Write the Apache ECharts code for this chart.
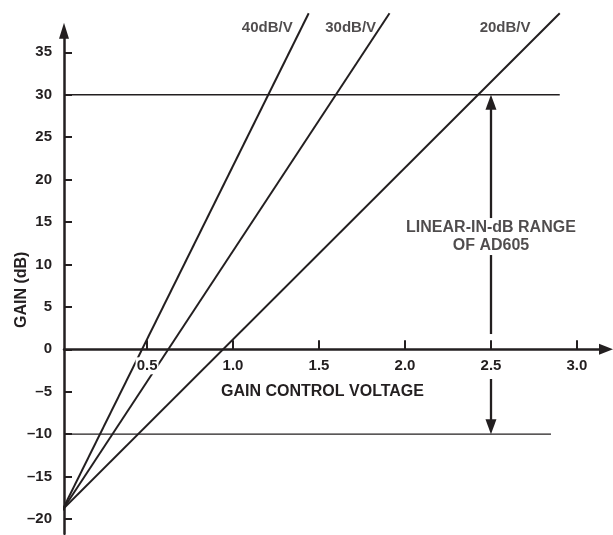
<!DOCTYPE html>
<html>
<head>
<meta charset="utf-8">
<script src="https://cdn.jsdelivr.net/npm/echarts@6/dist/echarts.min.js"></script>
<style>
html,body{margin:0;padding:0;background:#fff;}
#chart{width:613px;height:535px;}
</style>
</head>
<body>
<div id="chart"></div>
<script>
// ---- data ----
const voltageTicks = [0.5, 1.0, 1.5, 2.0, 2.5, 3.0];
const gainTicks = [-20, -15, -10, -5, 0, 5, 10, 15, 20, 25, 30, 35];
const slopeNames = ['40dB/V', '30dB/V', '20dB/V'];
const line40 = [[-0.055, -21.5], [1.44, 39.6]];
const line30 = [[-0.075, -21.5], [1.91, 39.6]];
const line20 = [[-0.12, -21.5], [2.90, 39.6]];
const rangeTop = 30;
const rangeBottom = -10;
const rangeVoltage = 2.5;
const topLineEnd = 2.90;
const bottomLineEnd = 2.849;
const rangeText = 'LINEAR-IN-dB RANGE\nOF AD605';
const xTitle = 'GAIN CONTROL VOLTAGE';
const yTitle = 'GAIN (dB)';

// ---- chart ----
const INK = '#231f20';
const FONT = '"Liberation Sans", Arial, Helvetica, sans-serif';
const xMin = 0.017, xMax = 3.169, yMin = -21.75, yMax = 37.55;
const GRID_TOP = 30.7, GRID_BOTTOM = 1.15, H = 535;
// pixel distance from the grid bottom edge up to gain = 0
const zeroOffset = (0 - yMin) / (yMax - yMin) * (H - GRID_TOP - GRID_BOTTOM);

const chart = echarts.init(document.getElementById('chart'), null, {renderer: 'canvas'});

function gainLine(d) {
  return {
    type: 'line', data: d, symbol: 'none', clip: false, silent: true,
    lineStyle: {color: INK, width: 2}, z: 2
  };
}

const option = {
  animation: false,
  grid: {left: 64, right: 7, top: GRID_TOP, bottom: GRID_BOTTOM, containLabel: false, outerBoundsMode: 'none'},
  xAxis: {
    type: 'value', min: xMin, max: xMax, z: 5, position: 'bottom', offset: -zeroOffset,
    axisLine: {onZero: false, lineStyle: {color: INK, width: 2.5},
      symbol: ['none', 'triangle'], symbolSize: [11, 14]},
    axisTick: {show: true, inside: true, length: 9, customValues: voltageTicks,
      lineStyle: {color: INK, width: 2}},
    axisLabel: {customValues: voltageTicks, margin: 8, color: INK, fontFamily: FONT,
      fontWeight: 'bold', fontSize: 15, backgroundColor: '#fff', padding: [1, 1],
      formatter: v => v.toFixed(1)},
    splitLine: {show: false},
    name: xTitle, nameLocation: 'middle', nameGap: 34, nameMoveOverlap: false,
    nameTextStyle: {color: INK, fontFamily: FONT, fontWeight: 'bold', fontSize: 16, padding: [0, 25, 0, 0]}
  },
  yAxis: {
    type: 'value', min: yMin, max: yMax, z: 5,
    axisLine: {onZero: false, lineStyle: {color: INK, width: 2.5},
      symbol: ['none', 'triangle'], symbolSize: [10, 16]},
    axisTick: {show: true, inside: true, length: 8, customValues: gainTicks,
      lineStyle: {color: INK, width: 2}},
    axisLabel: {customValues: gainTicks, margin: 12, color: INK, fontFamily: FONT,
      fontWeight: 'bold', fontSize: 15,
      formatter: v => (v < 0 ? '\u2013' + Math.abs(v) : String(v))},
    splitLine: {show: false},
    name: yTitle, nameLocation: 'middle', nameGap: 34, nameMoveOverlap: false,
    nameTextStyle: {color: INK, fontFamily: FONT, fontWeight: 'bold', fontSize: 16, padding: [0, 15, 0, 0]}
  },
  series: [
    gainLine(line40),
    gainLine(line30),
    gainLine(line20),
    {
      type: 'line', symbol: 'none', silent: true, clip: false,
      data: [[xMin, rangeTop], [topLineEnd, rangeTop]],
      lineStyle: {color: INK, width: 1.3}
    },
    {
      type: 'line', symbol: 'none', silent: true, clip: false,
      data: [[xMin, rangeBottom], [bottomLineEnd, rangeBottom]],
      lineStyle: {color: INK, width: 1.3},
      markLine: {
        silent: true, animation: false,
        label: {show: false},
        lineStyle: {color: INK, width: 2.3, type: 'solid'},
        symbolSize: [11, 15],
        data: [
          [{coord: [rangeVoltage, rangeTop - 0.88], symbol: 'triangle'}, {coord: [rangeVoltage, 15.47], symbol: 'none'}],
          [{coord: [rangeVoltage, 11.11], symbol: 'none'}, {coord: [rangeVoltage, 1.80], symbol: 'none'}],
          [{coord: [rangeVoltage, -3.50], symbol: 'none'}, {coord: [rangeVoltage, rangeBottom + 0.88], symbol: 'triangle'}]
        ]
      }
    },
    {
      type: 'scatter', silent: true, clip: false, symbolSize: 1,
      itemStyle: {color: 'rgba(0,0,0,0)'},
      data: [[1.35, 37.85], [1.835, 37.85], [2.733, 37.85]],
      label: {show: true, position: 'left', distance: 0, color: INK, fontFamily: FONT,
        fontWeight: 'bold', fontSize: 15, formatter: p => slopeNames[p.dataIndex]}
    },
    {
      type: 'scatter', silent: true, clip: false, symbolSize: 1,
      itemStyle: {color: 'rgba(0,0,0,0)'},
      data: [[rangeVoltage, 13.27]],
      label: {show: true, position: 'inside', color: INK, fontFamily: FONT,
        fontWeight: 'bold', fontSize: 16, lineHeight: 18, align: 'center',
        formatter: () => rangeText}
    }
  ]
};
chart.setOption(option);
</script>
</body>
</html>
